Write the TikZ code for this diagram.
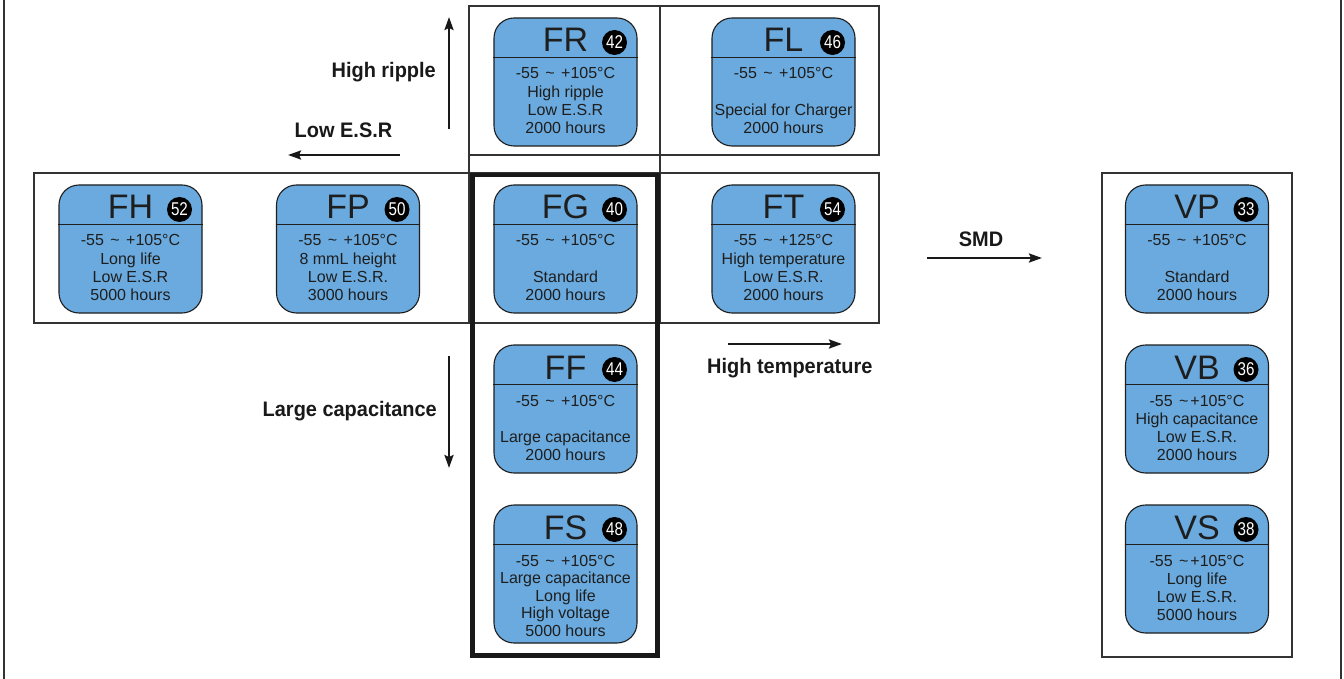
\documentclass[tikz,border=0pt]{standalone}
\usepackage{fontspec}
\setmainfont{Liberation Sans}
\newfontfamily\lblfont{Liberation Sans}[FakeStretch=0.95]
\newfontfamily\badgefont{Liberation Sans}[FakeStretch=0.82]
\usetikzlibrary{arrows.meta}
\definecolor{cardblue}{RGB}{106,170,222}
\definecolor{ink}{RGB}{30,30,30}
\tikzset{
  card/.style={draw=ink, line width=1.1pt, fill=cardblue, rounded corners=20pt,
    minimum width=143pt, inner sep=0pt},
  hdr/.style={draw=ink, line width=1.1pt},
  ttl/.style={anchor=base, inner sep=0pt, font=\fontsize{34}{34}\selectfont, text=ink},
  badge/.style={circle, fill=black, inner sep=0pt, minimum size=25pt, text=white,
    font=\badgefont\fontsize{18.5}{18.5}\selectfont},
  bodyln/.style={anchor=base, inner sep=0pt, font=\fontsize{16}{18}\selectfont, text=ink},
  thinbox/.style={draw=black!80, line width=1.1pt},
  heavy/.style={draw=black!90, line width=4.5pt},
  lbl/.style={inner sep=0pt, font=\lblfont\bfseries\fontsize{21}{21}\selectfont, text=black!90},
  arr/.style={line width=2.4pt, -{Stealth[length=13pt,width=9pt,inset=2pt]}, draw=black!90},
}
% #1 name, #2 cx, #3 top, #4 title, #5 number, #6 lines, #7 line spacing, #8 height
\newcommand\prodcard[8]{%
  \node[card, minimum height=#8pt] (#1) at (#2,#3+#8/2) {};
  \draw[hdr] ([yshift=-40pt]#1.north west) -- ([yshift=-40pt]#1.north east);
  \node[ttl] (#1-t) at (#2,#3+34) {#4};
  \node[badge] (#1-b) at (#2+49,#3+24.5) {#5};
  \foreach \ln [count=\i] in {#6} {
    \node[bodyln] (#1-l\i) at (#2,{#3+61+(\i-1)*#7}) {\ln};
  }%
}
\newcommand\tld{\hspace{2pt}{\textasciitilde}\hspace{2pt}}
\begin{document}
\begin{tikzpicture}[x=1pt,y=-1pt]
\useasboundingbox (0,0) rectangle (1344,679);
\fill[white] (0,0) rectangle (1344,679);
% page frame lines
\draw[thinbox] (4,0) -- (4,679);
\draw[thinbox] (1341,0) -- (1341,679);
% grid boxes
\draw[thinbox] (469,6) rectangle (879,155);
\draw[thinbox] (469,6) -- (469,323);
\draw[thinbox] (660,6) -- (660,323);
\draw[thinbox] (34,173) rectangle (879,323);
\draw[thinbox] (1102,173) rectangle (1292,657);
\draw[heavy] (472.5,175) rectangle (657.5,655.5);
% cards
\prodcard{FR}{565.5}{18}{FR}{42}{{-55 \tld{} +105°C},{High ripple},{Low E.S.R},{2000 hours}}{18.3}{128}
\prodcard{FL}{783.5}{18}{FL}{46}{{-55 \tld{} +105°C},{\mbox{}},{Special for Charger},{2000 hours}}{18.3}{128}
\prodcard{FH}{130.5}{185}{FH}{52}{{-55 \tld{} +105°C},{Long life},{Low E.S.R},{5000 hours}}{18.3}{128}
\prodcard{FP}{348}{185}{FP}{50}{{-55 \tld{} +105°C},{8 mmL height},{Low E.S.R.},{3000 hours}}{18.3}{128}
\prodcard{FG}{565.5}{185}{FG}{40}{{-55 \tld{} +105°C},{\mbox{}},{Standard},{2000 hours}}{18.3}{128}
\prodcard{FT}{783.5}{185}{FT}{54}{{-55 \tld{} +125°C},{High temperature},{Low E.S.R.},{2000 hours}}{18.3}{128}
\prodcard{VP}{1197}{185}{VP}{33}{{-55 \tld{} +105°C},{\mbox{}},{Standard},{2000 hours}}{18.3}{128}
\prodcard{FF}{565.5}{345}{FF}{44}{{-55 \tld{} +105°C},{\mbox{}},{Large capacitance},{2000 hours}}{18.3}{128}
\prodcard{VB}{1197}{345}{VB}{36}{{-55 \tld+105°C},{High capacitance},{Low E.S.R.},{2000 hours}}{18.3}{128}
\prodcard{FS}{565.5}{505}{FS}{48}{{-55 \tld{} +105°C},{Large capacitance},{Long life},{High voltage},{5000 hours}}{17.6}{138}
\prodcard{VS}{1197}{505}{VS}{38}{{-55 \tld+105°C},{Long life},{Low E.S.R.},{5000 hours}}{18.3}{128}
% labels
\node[lbl, anchor=base east] (lhr) at (436,78) {High ripple};
\node[lbl, anchor=base] (lesr) at (343.5,138) {Low E.S.R};
\node[lbl, anchor=base east] (lcap) at (437,416) {Large capacitance};
\node[lbl, anchor=base west] (ltemp) at (707,373) {High temperature};
\node[lbl, anchor=base] (lsmd) at (981,247) {SMD};
% arrows
\coordinate (hr0) at (449,129); \coordinate (hr1) at (449,17);
\coordinate (es0) at (400,155); \coordinate (es1) at (288,155);
\coordinate (lc0) at (449,356); \coordinate (lc1) at (449,468);
\coordinate (ht0) at (728,344); \coordinate (ht1) at (842,344);
\coordinate (sm0) at (927,258); \coordinate (sm1) at (1042,258);
\draw[arr] (hr0) -- (hr1);
\draw[arr] (es0) -- (es1);
\draw[arr] (lc0) -- (lc1);
\draw[arr] (ht0) -- (ht1);
\draw[arr] (sm0) -- (sm1);
\end{tikzpicture}
\end{document}
